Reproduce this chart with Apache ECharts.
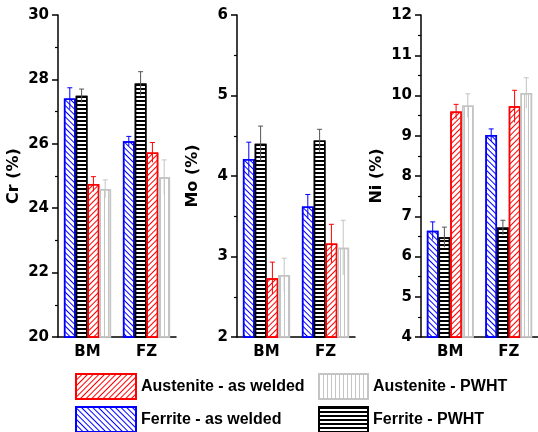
<!DOCTYPE html>
<html>
<head>
  <meta charset="UTF-8">
  <title>Cr Mo Ni</title>
  <script src="https://cdn.jsdelivr.net/npm/echarts@6/dist/echarts.min.js"></script>
</head>
<style type="text/css">
    html,body {padding: 0; margin: 0; background: #fff}
    #chart {width: 538px; height: 432px;}
</style>
<body>
<div id="chart"></div>
<script type="text/javascript">

    // order of bars in each group, left to right
    var seriesNames = ['Ferrite - as welded', 'Ferrite - PWHT', 'Austenite - as welded', 'Austenite - PWHT'];
    var categories = ['BM', 'FZ'];

    var crValues = [[27.41, 26.08], [27.49, 27.87], [24.75, 25.73], [24.60, 24.96]];
    var crErrors = [[0.33, 0.15], [0.21, 0.37], [0.23, 0.31], [0.28, 0.54]];
    var moValues = [[4.21, 3.62], [4.40, 4.44], [2.73, 3.16], [2.77, 3.11]];
    var moErrors = [[0.21, 0.15], [0.22, 0.14], [0.20, 0.24], [0.21, 0.34]];
    var niValues = [[6.64, 9.02], [6.48, 6.72], [9.60, 9.73], [9.75, 10.06]];
    var niErrors = [[0.22, 0.15], [0.25, 0.18], [0.18, 0.40], [0.29, 0.38]];

    var panelNames = ['Cr (%)', 'Mo (%)', 'Ni (%)'];
    var panelMin = [20, 2, 4];
    var panelMax = [30, 6, 12];
    var panelStep = [2, 1, 1];

    var font = 'DejaVu Sans';
    var lineColors = ['#0000ff', '#000000', '#ff0000', '#c4c4c4'];
    var errColors = ['#0000ff', '#555555', '#ff0000', '#c4c4c4'];
    var decals = [
        {symbol: 'rect', symbolSize: 1, color: '#0000ff', dashArrayX: [1, 0], dashArrayY: [1, 3], rotation: Math.PI / 4},
        {symbol: 'rect', symbolSize: 1, color: '#000000', dashArrayX: [1, 0], dashArrayY: [2, 2], rotation: 0},
        {symbol: 'rect', symbolSize: 1, color: '#ff0000', dashArrayX: [1, 0], dashArrayY: [1, 3], rotation: -Math.PI / 4},
        {symbol: 'rect', symbolSize: 1, color: '#c4c4c4', dashArrayX: [1, 3], dashArrayY: [1, 0], rotation: 0}
    ];

    var gridLefts = [58, 237, 421];
    var grids = [], xAxes = [], yAxes = [], series = [];

    function errorSeries(p, s, vals, errs) {
        return {
            type: 'custom', xAxisIndex: p, yAxisIndex: p, z: 5, silent: true,
            data: vals.map(function (v, i) { return [i, v, errs[i]]; }),
            renderItem: function (params, api) {
                var band = api.size([1, 0])[0];
                var barW = band * 0.8 / 4;
                var x = api.coord([api.value(0), 0])[0] - band * 0.4 + barW * (s + 0.5);
                var top = api.coord([api.value(0), api.value(1) + api.value(2)])[1];
                var bot = api.coord([api.value(0), api.value(1) - api.value(2)])[1];
                var st = {stroke: errColors[s], lineWidth: 1};
                return {type: 'group', children: [
                    {type: 'line', shape: {x1: x, y1: top, x2: x, y2: bot}, style: st},
                    {type: 'line', shape: {x1: x - 2.5, y1: top, x2: x + 2.5, y2: top}, style: st}
                ]};
            }
        };
    }

    var allValues = [crValues, moValues, niValues];
    var allErrors = [crErrors, moErrors, niErrors];

    for (var p = 0; p < 3; p++) {
        grids.push({left: gridLefts[p], top: 15, width: 118, height: 322});
        xAxes.push({
            type: 'category', gridIndex: p, data: categories,
            axisLine: {lineStyle: {color: '#000', width: 1.5}},
            axisTick: {alignWithLabel: true, length: 5, lineStyle: {color: '#000', width: 1.5}},
            axisLabel: {color: '#000', fontFamily: font, fontWeight: 'bold', fontSize: 15, margin: 8}
        });
        yAxes.push({
            type: 'value', gridIndex: p, min: panelMin[p], max: panelMax[p], interval: panelStep[p],
            name: panelNames[p], nameLocation: 'middle', nameGap: 36,
            nameTextStyle: {color: '#000', fontFamily: font, fontWeight: 'bold', fontSize: 16},
            axisLine: {show: true, lineStyle: {color: '#000', width: 1.5}},
            axisTick: {show: true, length: 6, lineStyle: {color: '#000', width: 1.5}},
            minorTick: {show: true, splitNumber: 2, length: 3, lineStyle: {color: '#000', width: 1.2}},
            splitLine: {show: false},
            axisLabel: {color: '#000', fontFamily: font, fontWeight: 'bold', fontSize: 15, margin: 9}
        });
        for (var s = 0; s < 4; s++) {
            series.push({
                name: seriesNames[s], type: 'bar', xAxisIndex: p, yAxisIndex: p,
                barGap: 0, barCategoryGap: '20%', silent: true,
                itemStyle: {color: '#ffffff', borderColor: lineColors[s], borderWidth: 1.5, decal: decals[s]},
                data: allValues[p][s]
            });
        }
        for (var s2 = 0; s2 < 4; s2++) {
            series.push(errorSeries(p, s2, allValues[p][s2], allErrors[p][s2]));
        }
    }

    var legendText = {color: '#000', fontFamily: 'Liberation Sans', fontWeight: 'bold', fontSize: 16};
    function legendItem(name, left, top, w) {
        return {left: left, top: top, padding: 0, itemWidth: w, itemHeight: 25,
                selectedMode: false, icon: 'rect', textStyle: legendText, data: [name]};
    }

    var option = {
        animation: false,
        textStyle: {fontFamily: font},
        grid: grids,
        xAxis: xAxes,
        yAxis: yAxes,
        legend: [
            legendItem('Austenite - as welded', 75, 373, 60),
            legendItem('Ferrite - as welded', 75, 406, 60),
            legendItem('Austenite - PWHT', 318, 373, 49),
            legendItem('Ferrite - PWHT', 318, 406, 49)
        ],
        series: series
    };

    var myChart = echarts.init(document.getElementById('chart'));
    myChart.setOption(option);

</script>
</body>
</html>
